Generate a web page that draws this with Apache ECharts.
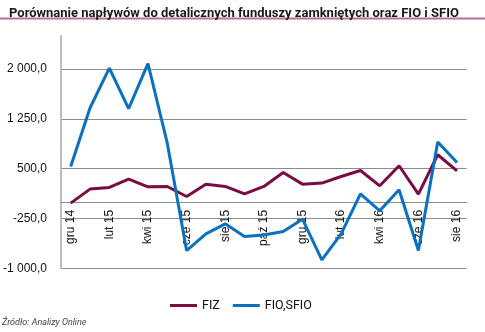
<!DOCTYPE html>
<html><head><meta charset="utf-8">
<script src="https://cdn.jsdelivr.net/npm/echarts@6/dist/echarts.min.js"></script>
<style>html,body{margin:0;padding:0;background:#fff}#c{width:485px;height:332px}</style>
</head><body><div id="c"></div>
<script>
const categories = ['gru 14','sty 15','lut 15','mar 15','kwi 15','maj 15','cze 15','lip 15','sie 15','wrz 15','paź 15','lis 15','gru 15','sty 16','lut 16','mar 16','kwi 16','maj 16','cze 16','lip 16','sie 16'];
const fiz = [-18,193,218,344,228,233,82,268,233,122,233,444,268,284,383,474,243,545,118,711,469];
const fioSfio = [534,1415,2015,1405,2084,885,-733,-481,-330,-522,-497,-446,-260,-874,-481,122,-134,183,-733,902,595];
const yTicks = [-1000,-250,500,1250,2000];

function fmt(v){
  const neg = v < 0; let a = Math.abs(v).toFixed(1).split('.');
  let s = a[0].replace(/\B(?=(\d{3})+(?!\d))/g,' ');
  return (neg?'-':'') + s + ',' + a[1];
}
const gridTop = 36, gridBottom = 63.7, H = 332, yMin = -1000, yMax = 2500;
const plotH = H - gridTop - gridBottom;
const zeroOffset = -plotH * (0 - yMin) / (yMax - yMin);
const chart = echarts.init(document.getElementById('c'));
chart.setOption({
  animation:false,
  textStyle:{fontFamily:'Liberation Sans, Arial, sans-serif'},
  title:{text:'Porównanie napływów do detalicznych funduszy zamkniętych oraz FIO i SFIO',left:4,top:2,
    textStyle:{fontSize:13,fontWeight:'bold',color:'#1a1a1a',fontFamily:'Roboto, sans-serif'}},
  graphic:[
    {type:'line',shape:{x1:0,y1:18.5,x2:485,y2:18.5},style:{stroke:'#b5739a',lineWidth:2}},
    {type:'text',left:2,top:318,style:{text:'Źródło: Analizy Online',font:'italic 9px Roboto, sans-serif',fill:'#444'}}
  ],
  legend:{data:['FIZ','FIO,SFIO'],left:165,top:294,icon:'rect',itemWidth:27,itemHeight:3,itemGap:13,
    textStyle:{fontSize:12.5,color:'#111',fontFamily:'Roboto, sans-serif'}},
  grid:{left:59.3,right:18.3,top:gridTop,bottom:gridBottom,containLabel:false},
  xAxis:{type:'category',data:categories,boundaryGap:true,offset:zeroOffset,
    axisLine:{onZero:false,lineStyle:{color:'#8c8c8c',width:1}},
    axisTick:{interval:1,length:4,lineStyle:{color:'#8c8c8c'}},
    axisLabel:{interval:1,rotate:90,fontSize:12,color:'#111',margin:8}},
  yAxis:{type:'value',min:yMin,max:yMax,interval:750,
    axisLine:{show:true,lineStyle:{color:'#bdbdbd',width:2}},
    axisTick:{show:false},
    splitLine:{lineStyle:{color:'#8c8c8c',width:1},showMaxLine:false},
    axisLabel:{showMaxLabel:false,fontSize:12,color:'#111',margin:14,formatter:v=>yTicks.includes(v)?fmt(v):''}},
  series:[
    {name:'FIZ',type:'line',data:fiz,symbol:'none',lineStyle:{color:'#7b0c42',width:3},itemStyle:{color:'#7b0c42'}},
    {name:'FIO,SFIO',type:'line',data:fioSfio,symbol:'none',lineStyle:{color:'#0a70c0',width:3},itemStyle:{color:'#0a70c0'}}
  ]
});
</script></body></html>
